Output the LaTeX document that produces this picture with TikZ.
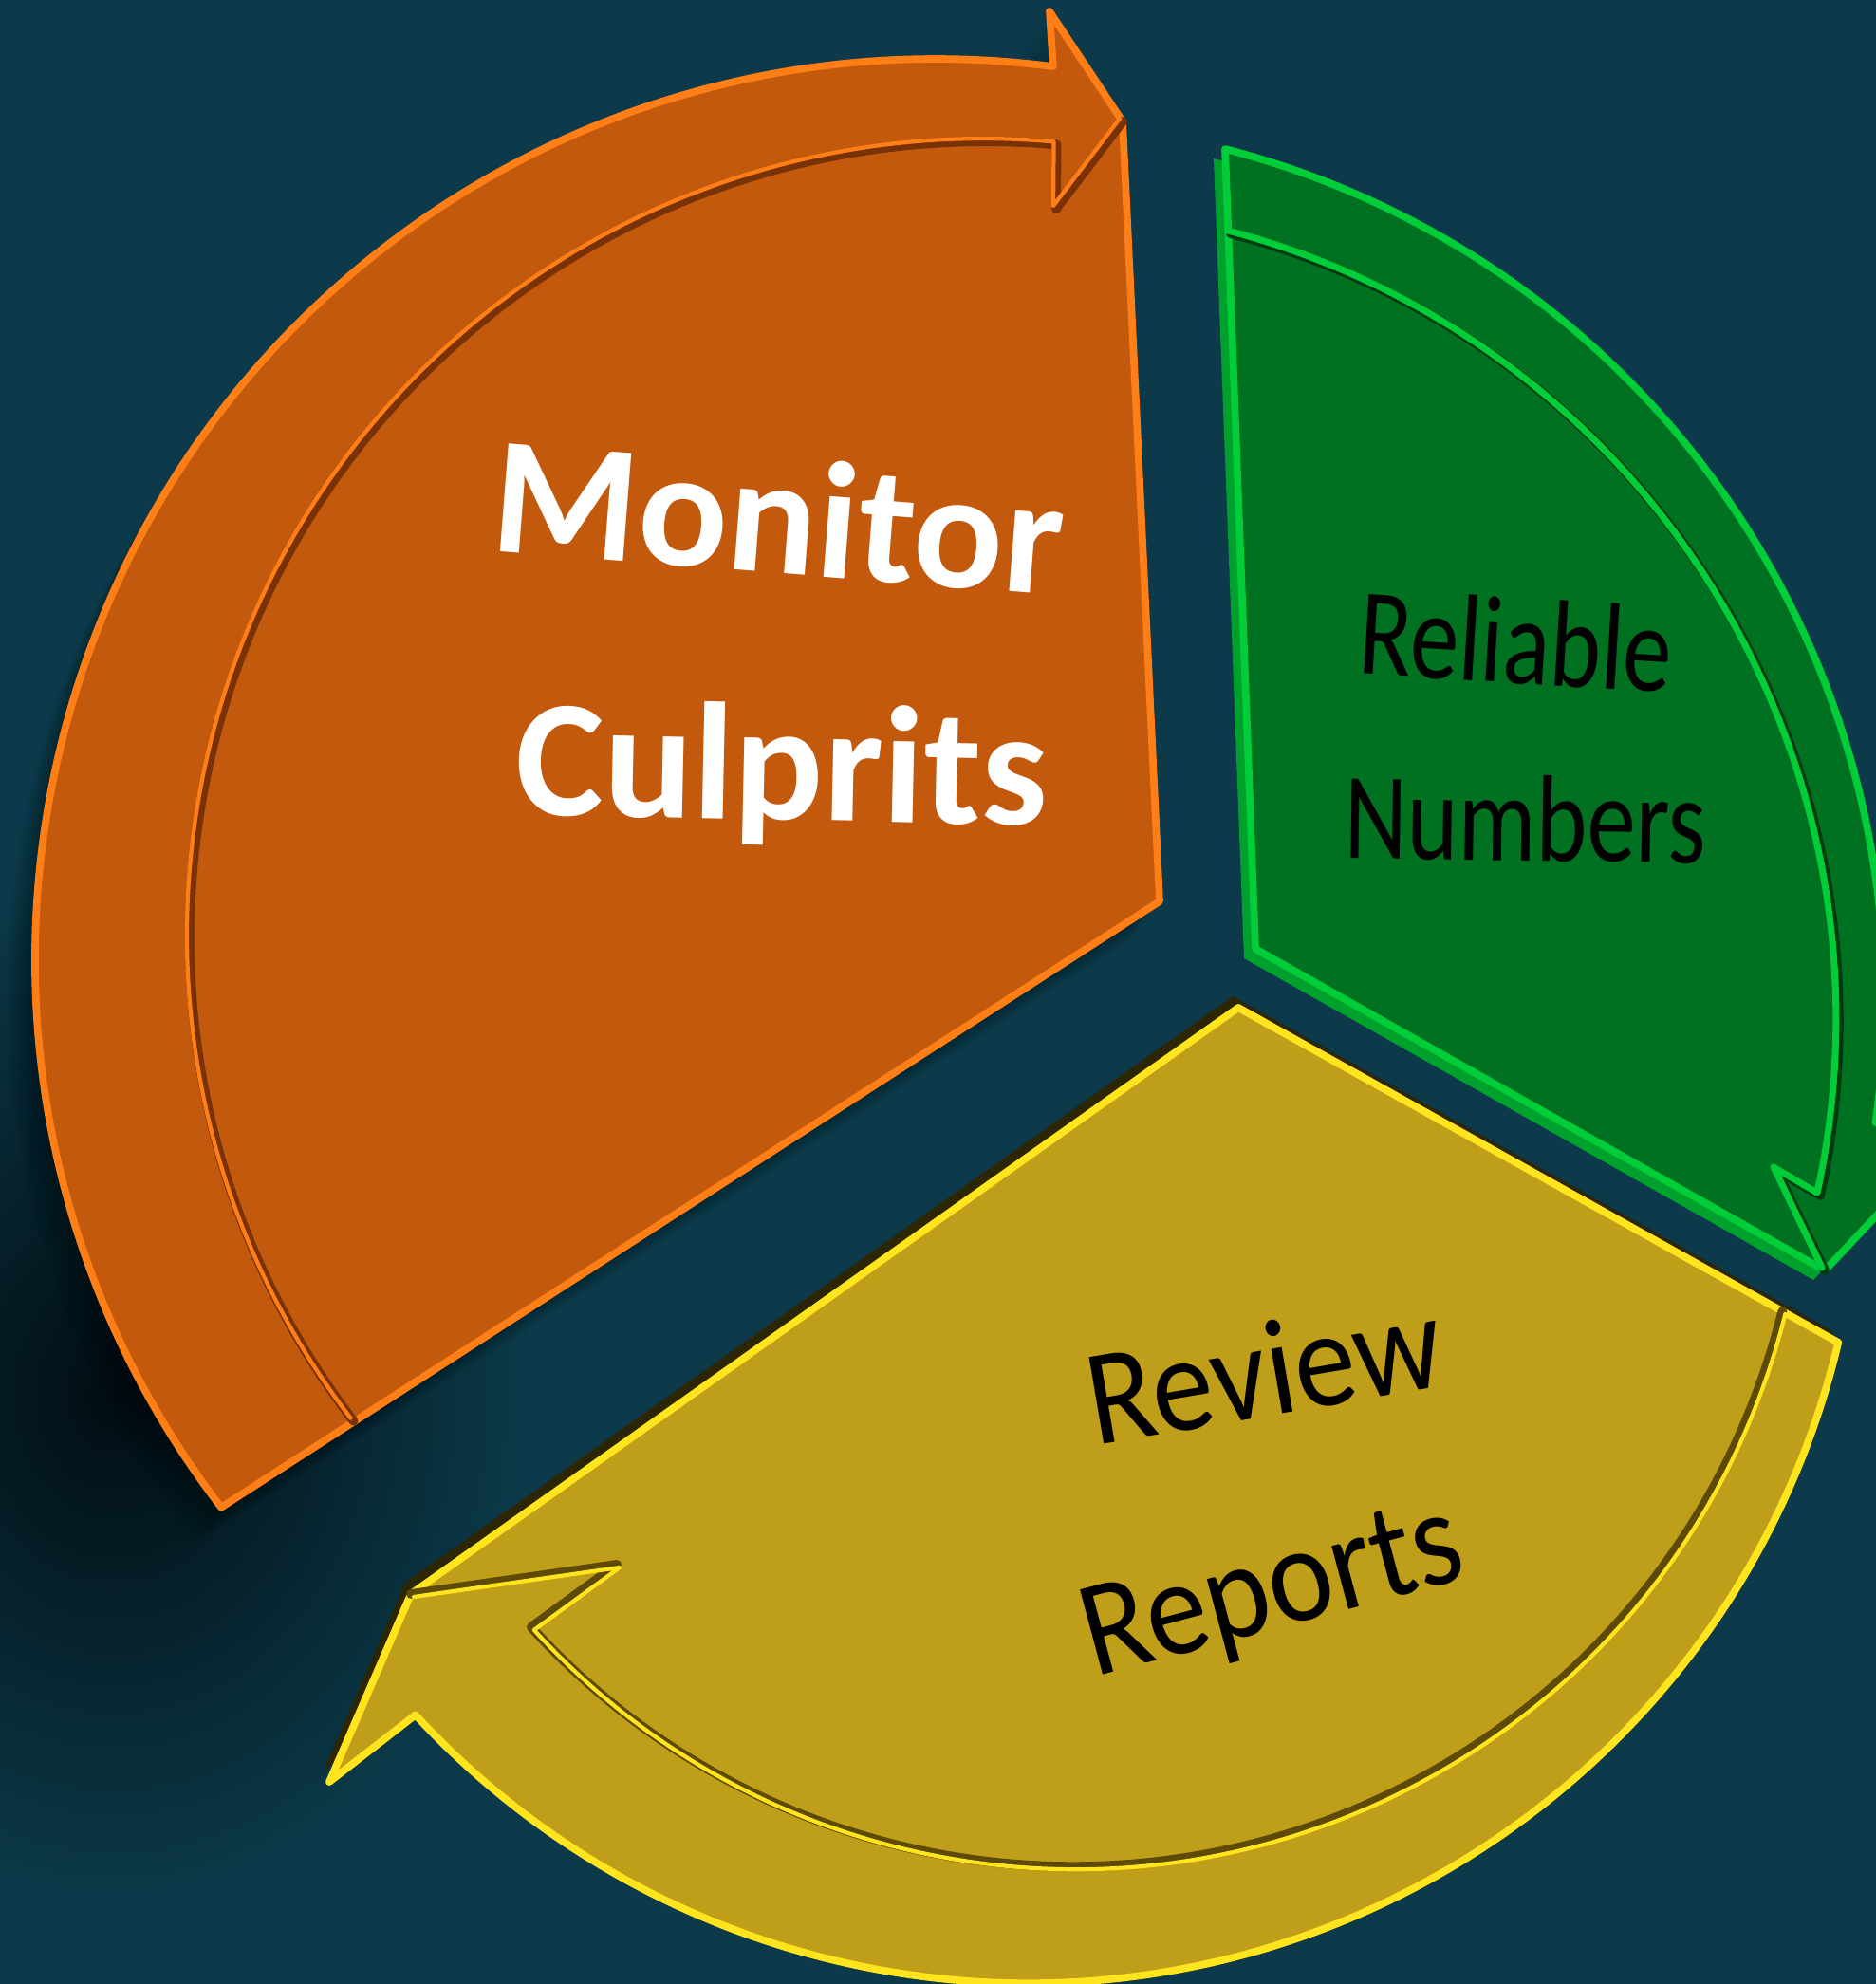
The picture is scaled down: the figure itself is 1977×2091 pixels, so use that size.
\documentclass[tikz,border=0pt]{standalone}
\usepackage{fontspec}
\setmainfont{Carlito}
\usetikzlibrary{fadings}

\definecolor{bgteal}{RGB}{12,58,74}
\definecolor{shadowcore}{RGB}{2,14,19}
\definecolor{orangebody}{RGB}{194,89,12}
\definecolor{orangelight}{RGB}{255,126,22}
\definecolor{orangedark}{RGB}{120,50,6}
\definecolor{greenbody}{RGB}{0,113,33}
\definecolor{greenlight}{RGB}{0,205,55}
\definecolor{greenside}{RGB}{0,160,45}
\definecolor{greendark}{RGB}{0,58,16}
\definecolor{yellowbody}{RGB}{191,158,25}
\definecolor{yellowlight}{RGB}{255,228,30}
\definecolor{yellowdark}{RGB}{92,74,6}
\definecolor{yellowside}{RGB}{45,38,4}

\tikzfading[name=softspot, inner color=transparent!0, outer color=transparent!100]

% outlines of the three parts (pixel units, y downwards)
\newcommand{\orangeshape}{(1222,950) -- (233.1,1588.7) arc[start angle=142.5,end angle=277.5,radius=949] -- (1106,12) -- (1183,128) -- cycle}
\newcommand{\orangegroove}{(372.5,1497.6) arc[start angle=142.6,end angle=275.1,radius=839] -- (1113,220) -- (1183,128)}
\newcommand{\greenshape}{(1323,1000) -- (1291,157) arc[start angle=284.5,end angle=368,radius=926.5] -- (2040,1215) -- (1923,1339) -- cycle}
\newcommand{\greengroove}{(1296.9,246) arc[start angle=284.74,end angle=372.28,radius=859.5] -- (1872,1233) -- (1923,1339)}
\newcommand{\yellowshape}{(1305,1062) -- (1937.2,1414.9) arc[start angle=13.36,end angle=137.3,radius=878] -- (347,1878) -- (433,1680) -- cycle}
\newcommand{\yellowgroove}{(1878.3,1382) arc[start angle=13.96,end angle=137.7,radius=771] -- (650,1649) -- (433,1680)}

\tikzset{
  rim/.style={line width=2.2pt, line join=round},
  groove/.style={line width=2.8pt, line join=round, line cap=round},
  grooveglint/.style={line width=1.2pt, line join=round, line cap=round},
  cycletext/.style={anchor=base, inner sep=0pt}
}

\begin{document}
\begin{tikzpicture}[x=0.01cm, y=-0.01cm]
\useasboundingbox (0,0) rectangle (1977,2091);
\clip (0,0) rectangle (1977,2091);
\fill[bgteal] (0,0) rectangle (1977,2091);

% soft shadow of the orange part
\fill[shadowcore, path fading=softspot] (120,1470) ellipse (440 and 540);
\foreach \k in {1,...,10}
  \fill[black, opacity=0.035, shift={(-3*\k,4*\k)}] \orangeshape;

% orange
\fill[orangebody] \orangeshape;
\draw[rim, orangelight] \orangeshape;
\draw[groove, orangedark] \orangegroove;
\draw[grooveglint, orangelight, shift={(-3,-3)}] \orangegroove;

% green
\fill[greenside, shift={(-12,10)}] \greenshape;
\fill[greenbody] \greenshape;
\draw[rim, greenlight] \greenshape;
\draw[groove, greendark] \greengroove;
\draw[grooveglint, greenlight, line width=2pt, shift={(-3,-3)}] \greengroove;

% yellow
\fill[yellowside, shift={(-6,-12)}] \yellowshape;
\fill[yellowbody] \yellowshape;
\draw[rim, yellowlight] \yellowshape;
\draw[groove, yellowdark] \yellowgroove;
\draw[grooveglint, yellowlight, shift={(3,3)}] \yellowgroove;

\node[cycletext, rotate=-4.5, text=white, font=\bfseries\fontsize{50}{60}\selectfont] (monitor) at (816,604) {Monitor};
\node[cycletext, rotate=-1.2, text=white, font=\bfseries\fontsize{50}{60}\selectfont] (culprits) at (823,864) {Culprits};
\node[cycletext, rotate=-3.5, xscale=0.79, font=\fontsize{37}{44}\selectfont] (reliable) at (1595,720) {Reliable};
\node[cycletext, rotate=-0.8, xscale=0.79, font=\fontsize{37}{44}\selectfont] (numbers) at (1607,907) {Numbers};
\node[cycletext, rotate=9.7, xscale=0.9, font=\fontsize{41}{49}\selectfont] (review) at (1340,1492) {Review};
\node[cycletext, rotate=15, xscale=0.9, font=\fontsize{41}{49}\selectfont] (reports) at (1351,1715) {Reports};
\end{tikzpicture}
\end{document}
